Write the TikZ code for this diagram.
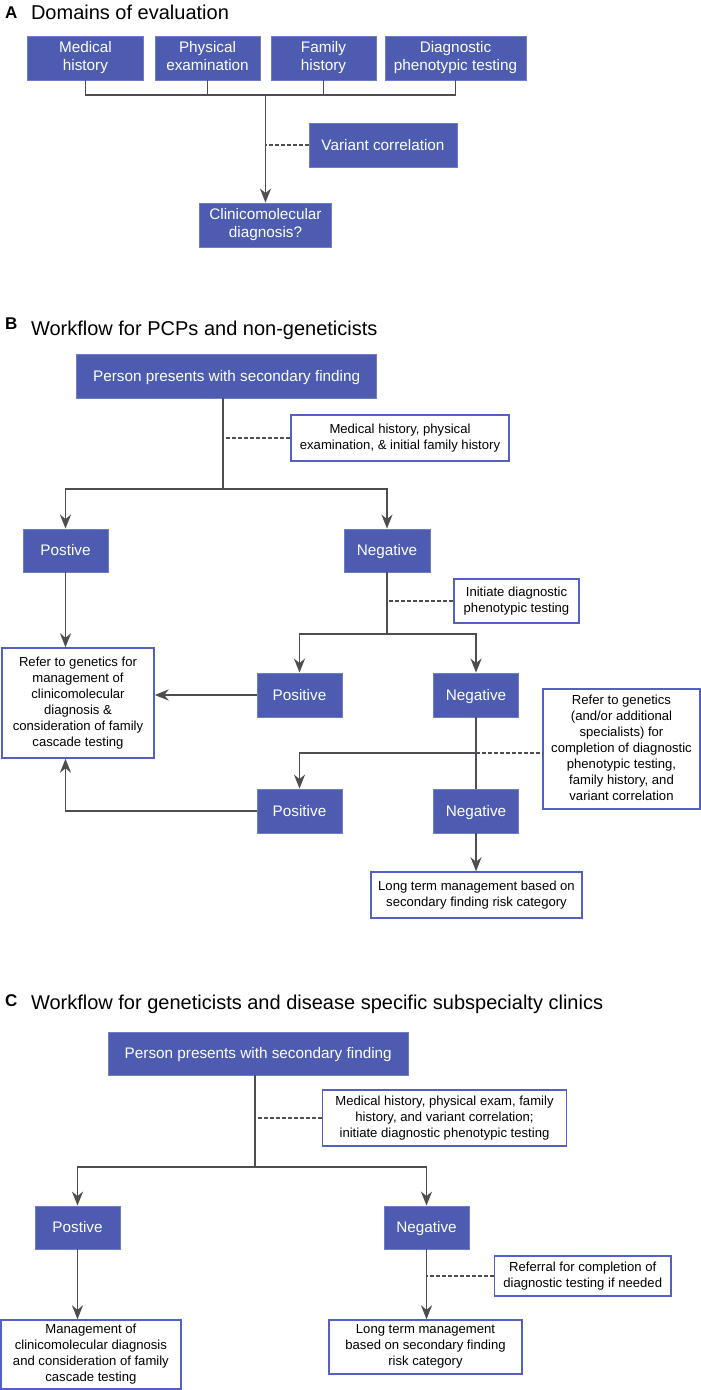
\documentclass[tikz,border=0pt]{standalone}
\usepackage{fontspec}
\setmainfont{Liberation Sans}
\usetikzlibrary{arrows.meta}
\definecolor{boxblue}{RGB}{77,92,176}
\definecolor{boxrim}{RGB}{112,124,200}
\definecolor{edgeblue}{RGB}{85,96,196}
\definecolor{linegray}{RGB}{78,78,82}
\newcommand\vstrut{\rule[-0.25em]{0pt}{1.216em}}
\tikzset{
  bluebox/.style={fill=boxblue,draw=boxrim,line width=0.8pt,text=white,align=center,inner sep=0pt,
    font=\fontsize{15.3}{18.3}\selectfont,
    execute at begin node=\vstrut, execute at end node=\vstrut},
  whitebox/.style={fill=white,draw=edgeblue,line width=1.4pt,text=black,align=center,inner sep=0pt,
    font=\fontsize{13.1}{16}\selectfont,
    execute at begin node=\vstrut, execute at end node=\vstrut},
  conn/.style={draw=linegray,line width=1.9pt},
  arr/.style={conn,-{Stealth[length=14pt,width=11pt,inset=4.5pt]}},
  dashconn/.style={draw=linegray,line width=1.3pt,dash pattern=on 4pt off 2pt},
  ttl/.style={anchor=base west,font=\fontsize{20}{24}\selectfont},
  lett/.style={anchor=base west,font=\fontsize{17}{20}\selectfont\bfseries},
}
\newcommand\bx[7]{\node[#6,minimum width={(#4-#2)*1pt},minimum height={(#5-#3)*1pt}] (#1) at ({(#2+#4)/2},{(#3+#5)/2}) {#7};}
\begin{document}
\begin{tikzpicture}[x=1pt,y=-1pt]
\useasboundingbox (0,0) rectangle (701,1390);
% ---------- A ----------
\node[lett] (la) at (1.5,18.5) {A};
\node[ttl] (ta) at (27.5,19.5) {Domains of evaluation};
\bx{mh}{27.7}{36}{143.2}{80}{bluebox}{Medical\\history}
\bx{pe}{155}{36}{260}{80}{bluebox}{Physical\\examination}
\bx{fh}{271}{36}{376}{80}{bluebox}{Family\\history}
\bx{dp}{385}{36}{526}{80}{bluebox}{Diagnostic\\phenotypic testing}
\bx{vc}{309}{123}{457}{167}{bluebox}{Variant correlation}
\bx{cd}{199.5}{203}{331.5}{247}{bluebox}{Clinicomolecular\\diagnosis?}
\coordinate (hA) at (265.5,95);
\draw[conn] (mh.south) -- (mh.south|-hA) -- (dp.south|-hA) -- (dp.south);
\draw[conn] (pe.south) -- (pe.south|-hA);
\draw[conn] (fh.south) -- (fh.south|-hA);
\draw[arr] (cd.north|-hA) -- (cd.north);
\draw[dashconn] (vc.west) -- (vc.west-|cd.north);
% ---------- B ----------
\node[lett] (lb) at (1.5,329) {B};
\node[ttl] (tb) at (27.5,335) {Workflow for PCPs and non-geneticists};
\bx{pB}{76.5}{354}{376.7}{398}{bluebox}{Person presents with secondary finding}
\bx{n1B}{291}{415}{509}{461}{whitebox}{Medical history, physical\\examination, \& initial family history}
\bx{posB}{23}{529}{108}{572}{bluebox}{Postive}
\bx{negB}{344}{529}{430}{572}{bluebox}{Negative}
\bx{n2B}{454}{579}{579}{623}{whitebox}{Initiate diagnostic\\phenotypic testing}
\bx{refB}{2}{648}{154}{758}{whitebox}{Refer to genetics for\\management of\\clinicomolecular\\diagnosis \&\\consideration of family\\cascade testing}
\bx{p1B}{257}{673}{342}{717}{bluebox}{Positive}
\bx{ng1B}{433.5}{673}{518.6}{717}{bluebox}{Negative}
\bx{ref2B}{543}{689}{700}{809}{whitebox}{Refer to genetics\\(and/or additional\\specialists) for\\completion of diagnostic\\phenotypic testing,\\family history, and\\variant correlation}
\bx{p2B}{257}{789}{342}{833}{bluebox}{Positive}
\bx{ng2B}{433.5}{789}{518.6}{833}{bluebox}{Negative}
\bx{ltB}{371}{872}{582}{918}{whitebox}{Long term management based on\\secondary finding risk category}
\coordinate (jB) at (223,489);
\draw[conn] (pB.south-|jB) -- (jB);
\draw[arr] (jB) -| (posB.north);
\draw[arr] (jB) -| (negB.north);
\draw[dashconn] (n1B.west) -- (n1B.west-|jB);
\draw[arr] (posB.south) -- (posB.south|-refB.north);
\coordinate (jB2) at (387,634);
\draw[conn] (negB.south) -- (jB2);
\draw[arr] (jB2) -| (p1B.north);
\draw[arr] (jB2) -| (ng1B.north);
\draw[dashconn] (n2B.west) -- (n2B.west-|jB2);
\draw[arr] (p1B.west) -- (p1B.west-|refB.east);
\coordinate (jB3) at (476,753);
\draw[conn] (ng1B.south) -- (ng2B.north);
\draw[arr] (jB3) -| (p2B.north);
\draw[dashconn] (jB3) -- (jB3-|ref2B.west);
\draw[arr] (p2B.west) -| (refB.south-|posB.south);
\draw[arr] (ng2B.south) -- (ng2B.south|-ltB.north);
% ---------- C ----------
\node[lett] (lc) at (1.5,1006) {C};
\node[ttl] (tc) at (27.5,1009) {Workflow for geneticists and disease specific subspecialty clinics};
\bx{pC}{108}{1032}{408.5}{1075}{bluebox}{Person presents with secondary finding}
\bx{nC}{322.6}{1090}{566.4}{1146}{whitebox}{Medical history, physical exam, family\\history, and variant correlation;\\initiate diagnostic phenotypic testing}
\bx{posC}{35}{1206}{120}{1249}{bluebox}{Postive}
\bx{negC}{384}{1206}{469}{1249}{bluebox}{Negative}
\bx{mgC}{0.8}{1320}{181}{1389}{whitebox}{Management of\\clinicomolecular diagnosis\\and consideration of family\\cascade testing}
\bx{ltC}{329}{1320}{522}{1374}{whitebox}{Long term management\\based on secondary finding\\risk category}
\bx{rfC}{494.4}{1256}{671}{1296}{whitebox}{Referral for completion of\\diagnostic testing if needed}
\coordinate (jC) at (255,1167);
\draw[conn] (pC.south-|jC) -- (jC);
\draw[arr] (jC) -| (posC.north);
\draw[arr] (jC) -| (negC.north);
\draw[dashconn] (nC.west) -- (nC.west-|jC);
\draw[arr] (posC.south) -- (posC.south|-mgC.north);
\draw[arr] (negC.south) -- (negC.south|-ltC.north);
\draw[dashconn] (rfC.west) -- (rfC.west-|negC.south);
\end{tikzpicture}
\end{document}
